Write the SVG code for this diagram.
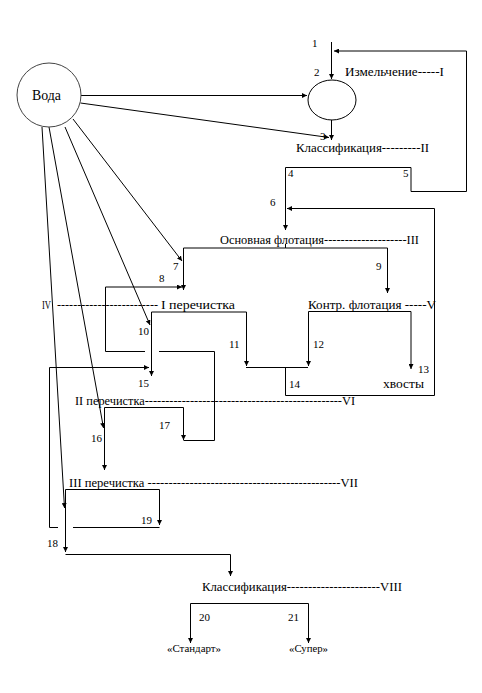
<svg xmlns="http://www.w3.org/2000/svg" width="482" height="693" viewBox="0 0 482 693" font-family="'Liberation Serif', 'Times New Roman', 'DejaVu Serif', serif">
<defs>
<marker id="a" markerWidth="6" markerHeight="5" refX="5" refY="2.5" orient="auto" markerUnits="userSpaceOnUse"><path d="M0,0 L5,2.5 L0,5 z" fill="#000"/></marker>
</defs>
<style>
text{font-family:'Liberation Serif','Times New Roman','DejaVu Serif',serif;fill:#000}
.t{font-size:12.5px}
.n{font-size:11px}
.s{font-size:11px}
.c{fill:none;stroke:#000;stroke-width:1}
.ar{marker-end:url(#a)}
</style>
<rect width="482" height="693" fill="#fff"/>
<g id="connectors" class="c">
<path class="ar" d="M81,95.5 H307"/>
<path class="ar" d="M80.5,103 L329,137.5"/>
<path class="ar" d="M331.5,42 V79"/>
<path class="ar" d="M331.5,120 V140"/>
<path class="ar" d="M411,167.5 H285.5 V230"/>
<path class="ar" d="M411,167.5 V191.5 H466.5 V51 H334"/>
<path class="ar" d="M285.5,367 V395.5 H434.5 V208.5 H287"/>
<path d="M285.5,244 V248"/>
<path class="ar" d="M285.5,248 H183.5 V290"/>
<path class="ar" d="M285.5,248 H387.5 V293"/>
<path class="ar" d="M73,119 L182,261"/>
<path d="M183.5,440.5 H214.5 V351.5 H159"/>
<path class="ar" d="M145,351.5 H105.5 V287 H182"/>
<path class="ar" d="M151.5,312 H246.5 V366"/>
<path class="ar" d="M151.5,312 V376"/>
<path class="ar" d="M65,127 L150,325"/>
<path d="M246,367.5 H308"/>
<path class="ar" d="M411,311.5 H308.5 V366"/>
<path class="ar" d="M411,311.5 V369"/>
<path class="ar" d="M58,527.5 H49.5 V367.5 H149"/>
<path class="ar" d="M104.5,407.5 H183.5 V440"/>
<path class="ar" d="M104.5,407.5 V470"/>
<path class="ar" d="M49,127 L103.5,428"/>
<path class="ar" d="M65.5,489.5 H159.5 V525"/>
<path class="ar" d="M65.5,489.5 V552"/>
<path d="M73,527.5 H159.5"/>
<path class="ar" d="M42,127 L64.5,508"/>
<path class="ar" d="M65.5,554.5 H230.5 V576"/>
<path class="ar" d="M190.5,603.5 H308.5 V643"/>
<path class="ar" d="M190.5,603.5 V643"/>
</g>
<g id="voda"><circle cx="49" cy="95" r="32" fill="none" stroke="#444"/><text x="32" y="100" font-size="14" textLength="29" lengthAdjust="spacingAndGlyphs">Вода</text></g>
<g id="grinding"><ellipse cx="332" cy="100" rx="24" ry="20" fill="none" stroke="#000"/><text class="t" x="345" y="76" textLength="99" lengthAdjust="spacingAndGlyphs">Измельчение-----I</text></g>
<g id="classif1"><text class="t" x="296" y="152" textLength="133" lengthAdjust="spacingAndGlyphs">Классификация---------II</text></g>
<g id="mainflot"><text class="t" x="220" y="244" textLength="199" lengthAdjust="spacingAndGlyphs">Основная флотация--------------------III</text></g>
<g id="clean1"><text class="t" x="42" y="309" textLength="9" lengthAdjust="spacingAndGlyphs">IV</text><text class="t" x="57" y="309" textLength="101" lengthAdjust="spacingAndGlyphs">-------------------------</text><text class="t" x="161" y="309" textLength="74" lengthAdjust="spacingAndGlyphs">I перечистка</text></g>
<g id="controlflot"><text class="t" x="308" y="309" textLength="128" lengthAdjust="spacingAndGlyphs">Контр. флотация -----V</text></g>
<g id="tails"><text class="t" x="383" y="388" textLength="41" lengthAdjust="spacingAndGlyphs">хвосты</text></g>
<g id="clean2"><text class="t" x="75" y="405" textLength="280" lengthAdjust="spacingAndGlyphs">II перечистка------------------------------------------------VI</text></g>
<g id="clean3"><text class="t" x="69" y="487" textLength="289" lengthAdjust="spacingAndGlyphs">III перечистка ----------------------------------------------VII</text></g>
<g id="classif2"><text class="t" x="202" y="591" textLength="200" lengthAdjust="spacingAndGlyphs">Классификация----------------------VIII</text></g>
<g id="standard"><text class="s" x="167" y="652" textLength="54" lengthAdjust="spacingAndGlyphs">«Стандарт»</text></g>
<g id="super"><text class="s" x="289" y="652" textLength="39" lengthAdjust="spacingAndGlyphs">«Супер»</text></g>
<g id="labels" class="n">
<text x="312" y="47">1</text>
<text x="314" y="76">2</text>
<text x="320" y="140">3</text>
<text x="288" y="177">4</text>
<text x="403" y="177">5</text>
<text x="270" y="206">6</text>
<text x="173" y="270">7</text>
<text x="159" y="282">8</text>
<text x="376" y="270">9</text>
<text x="138" y="335">10</text>
<text x="229" y="348">11</text>
<text x="313" y="348">12</text>
<text x="418" y="373">13</text>
<text x="289" y="388">14</text>
<text x="138" y="387">15</text>
<text x="91" y="442">16</text>
<text x="159" y="429">17</text>
<text x="47" y="547">18</text>
<text x="141" y="524">19</text>
<text x="199" y="621">20</text>
<text x="288" y="621">21</text>
</g>
</svg>
